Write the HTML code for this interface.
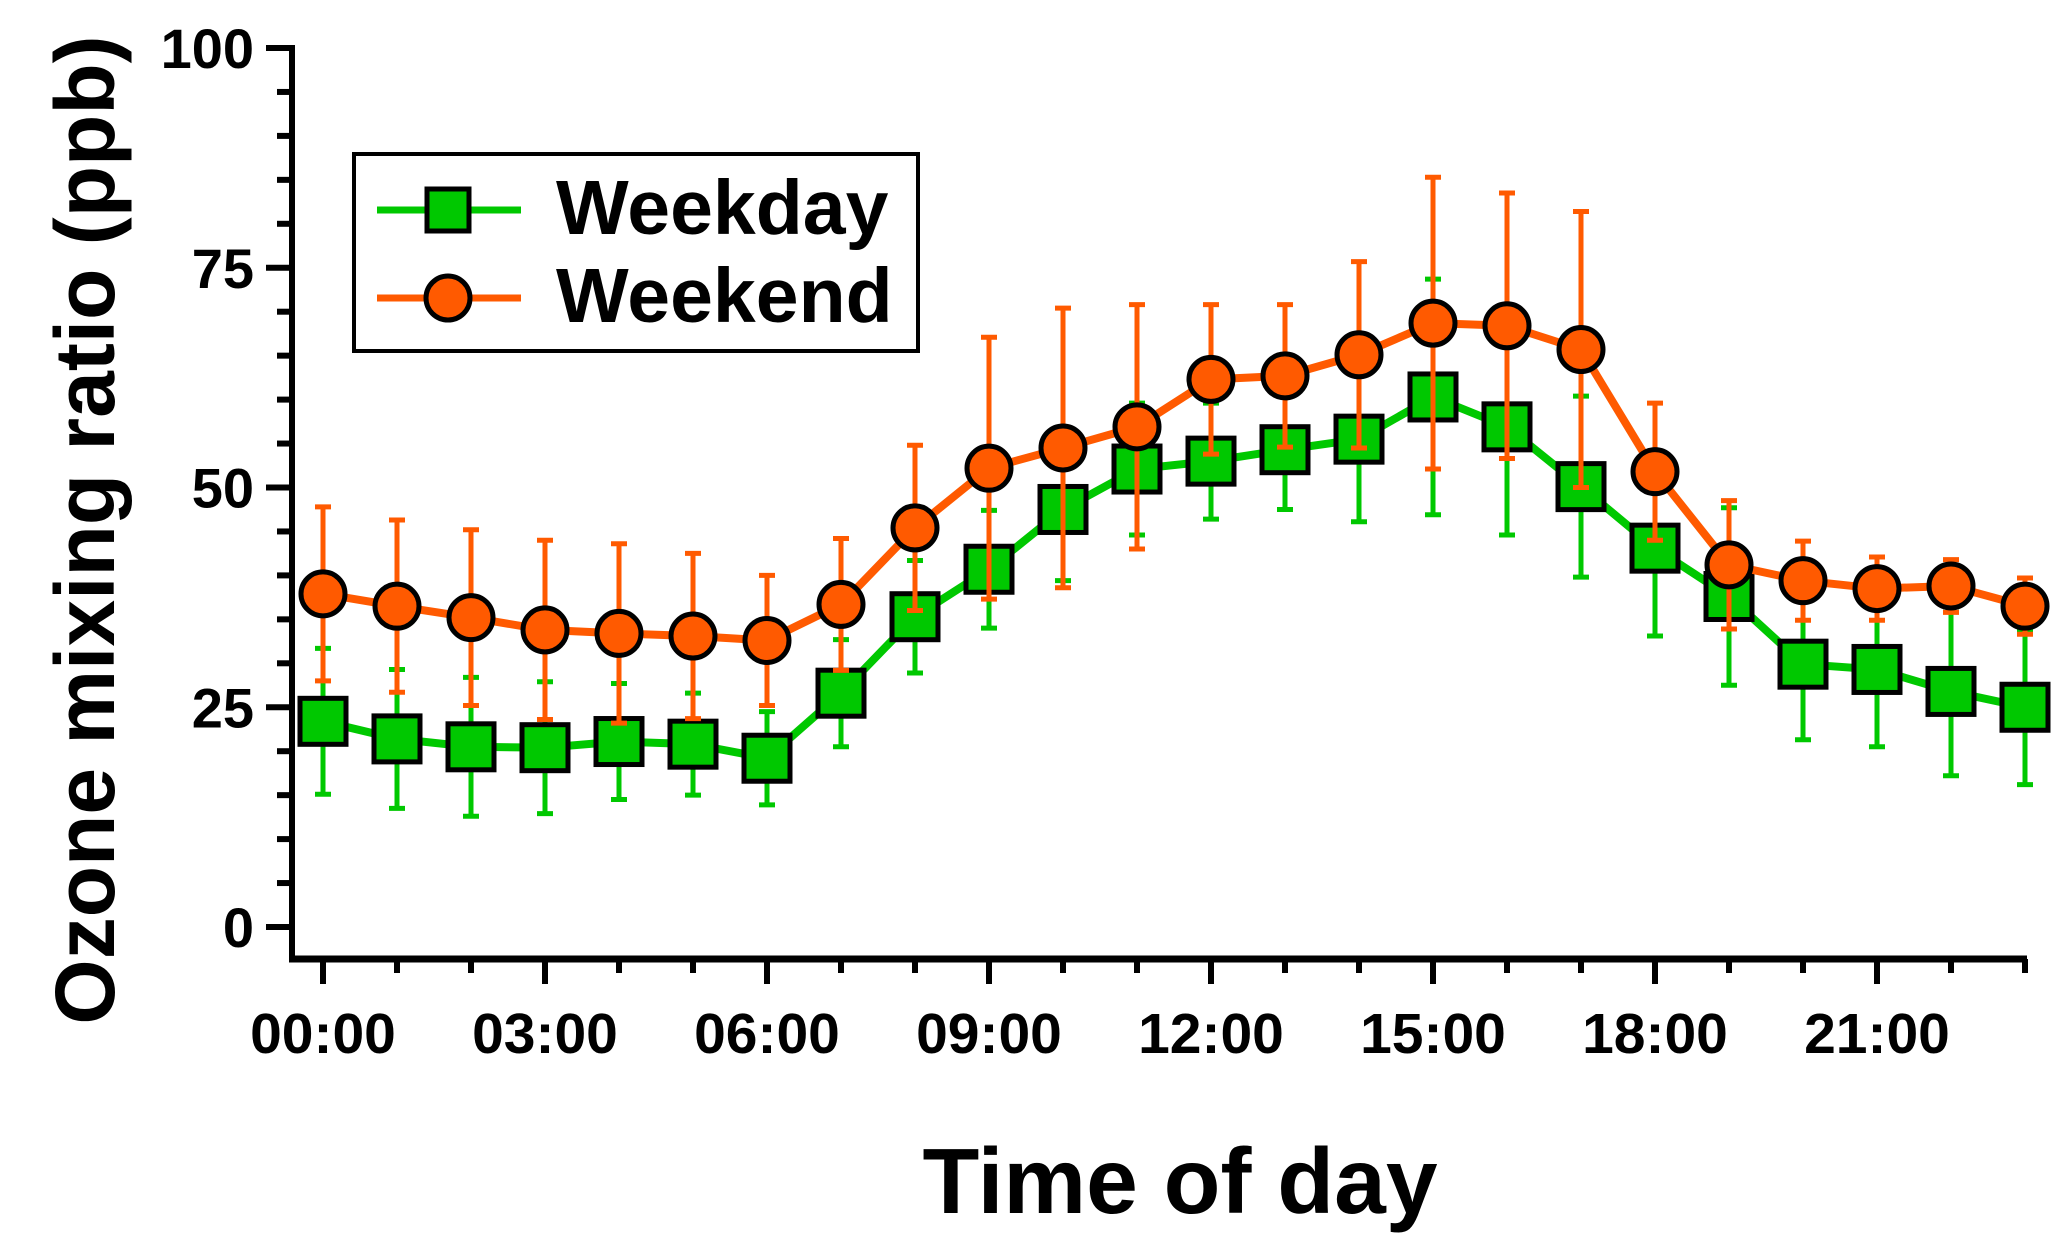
<!DOCTYPE html>
<html><head><meta charset="utf-8"><style>
html,body{margin:0;padding:0;background:#fff;}
svg{display:block;font-family:"Liberation Sans",Arial,sans-serif;font-weight:bold;}
</style></head><body>
<svg id="chart" width="2067" height="1259" viewBox="0 0 2067 1259" xmlns="http://www.w3.org/2000/svg">
<g id="axes"></g>
<g id="series"></g>
<text x="0" y="0" transform="translate(114,530) rotate(-90)" text-anchor="middle" font-size="84">Ozone mixing ratio (ppb)</text>
<text x="1180" y="1213" text-anchor="middle" font-size="93">Time of day</text>
<g>
<rect x="354" y="154" width="564" height="197" fill="#fff" stroke="#000" stroke-width="4"/>
<g>
<line x1="377" y1="210" x2="521" y2="210" stroke="#00c800" stroke-width="7"/>
<rect x="427" y="189" width="42" height="42" fill="#00c800" stroke="#000" stroke-width="5"/>
<text x="556" y="234" font-size="77">Weekday</text></g>
<g>
<line x1="377" y1="298" x2="521" y2="298" stroke="#ff5a00" stroke-width="7"/>
<circle cx="448" cy="298" r="22" fill="#ff5a00" stroke="#000" stroke-width="5"/>
<text x="556" y="322" font-size="77">Weekend</text></g>
</g>
</svg>
<script>
const hours=[0,1,2,3,4,5,6,7,8,9,10,11,12,13,14,15,16,17,18,19,20,21,22,23];
const weekdayMean=[23.4,21.4,20.5,20.4,21.1,20.8,19.2,26.6,35.3,40.7,47.5,52.1,53.0,54.3,55.5,60.3,56.9,50.1,43.1,37.6,29.9,29.3,26.8,25.0];
const weekdayErr=[8.3,7.9,7.9,7.5,6.6,5.8,5.3,6.1,6.4,6.7,8.1,7.5,6.6,6.8,9.4,13.4,12.3,10.3,10.0,10.1,8.6,8.8,9.6,8.8];
const weekendMean=[37.9,36.5,35.2,33.8,33.4,33.1,32.6,36.7,45.4,52.2,54.5,56.9,62.3,62.7,65.1,68.7,68.4,65.7,51.8,41.2,39.4,38.5,38.8,36.5];
const weekendErr=[9.9,9.8,10.0,10.2,10.2,9.4,7.4,7.5,9.4,14.9,15.9,13.9,8.5,8.1,10.6,16.6,15.1,15.7,7.8,7.3,4.5,3.6,3.0,3.2];
const yTicks=[0,25,50,75,100];
const xTickLabels=["00:00","03:00","06:00","09:00","12:00","15:00","18:00","21:00"];

const NS="http://www.w3.org/2000/svg";
const X=h=>323+h*74;
const Y=v=>927-v*8.79;
function mk(tag,attrs,parent){const e=document.createElementNS(NS,tag);for(const k in attrs)e.setAttribute(k,attrs[k]);parent.appendChild(e);return e;}
const axes=document.getElementById('axes');
const series=document.getElementById('series');

let yl=mk('line',{x1:292,y1:45,x2:292,y2:961,stroke:'#000','stroke-width':6},axes);


for(let v=0;v<=100;v+=5){
  const major=v%25===0;
  const t=mk('line',{x1:major?266:277,y1:Y(v),x2:292,y2:Y(v),stroke:'#000','stroke-width':6},axes);
  
  
}
yTicks.forEach(v=>{
  const t=mk('text',{x:254,y:Y(v)+20,'text-anchor':'end','font-size':56},axes);
  t.textContent=String(v);
  
  
});
let xl=mk('line',{x1:289,y1:959,x2:2027,y2:959,stroke:'#000','stroke-width':7},axes);


hours.forEach(h=>{
  const major=h%3===0;
  const t=mk('line',{x1:X(h),y1:959,x2:X(h),y2:major?984:973,stroke:'#000','stroke-width':6},axes);
  
  
});
xTickLabels.forEach((s,i)=>{
  const t=mk('text',{x:X(i*3),y:1053,'text-anchor':'middle','font-size':57},axes);
  t.textContent=s;
  
  
});

function drawErr(g,mean,err,color,name){
  hours.forEach((h,i)=>{
    const x=X(h),yt=Y(mean[i]+err[i]),yb=Y(mean[i]-err[i]);
    const eb=mk('path',{d:`M${x},${yt}V${yb}M${x-8},${yt}H${x+8}M${x-8},${yb}H${x+8}`,stroke:color,'stroke-width':5,fill:'none'},g);
    
    
  });
}
function drawSeries(mean,err,color,shape,name){
  const g=mk('g',{},series);
  
  
  drawErr(g,mean,err,color,name);
  const pts=hours.map((h,i)=>X(h)+','+Y(mean[i])).join(' ');
  const ln=mk('polyline',{points:pts,fill:'none',stroke:color,'stroke-width':8,'stroke-linejoin':'round'},g);
  
  
  hours.forEach((h,i)=>{
    const x=X(h),y=Y(mean[i]);
    let m;
    if(shape==='square') m=mk('rect',{x:x-23,y:y-23,width:46,height:46,fill:color,stroke:'#000','stroke-width':5},g);
    else m=mk('circle',{cx:x,cy:y,r:22,fill:color,stroke:'#000','stroke-width':5},g);
    
    
  });
}
drawSeries(weekdayMean,weekdayErr,'#00c800','square','weekday');
drawSeries(weekendMean,weekendErr,'#ff5a00','circle','weekend');
</script>
</body></html>
